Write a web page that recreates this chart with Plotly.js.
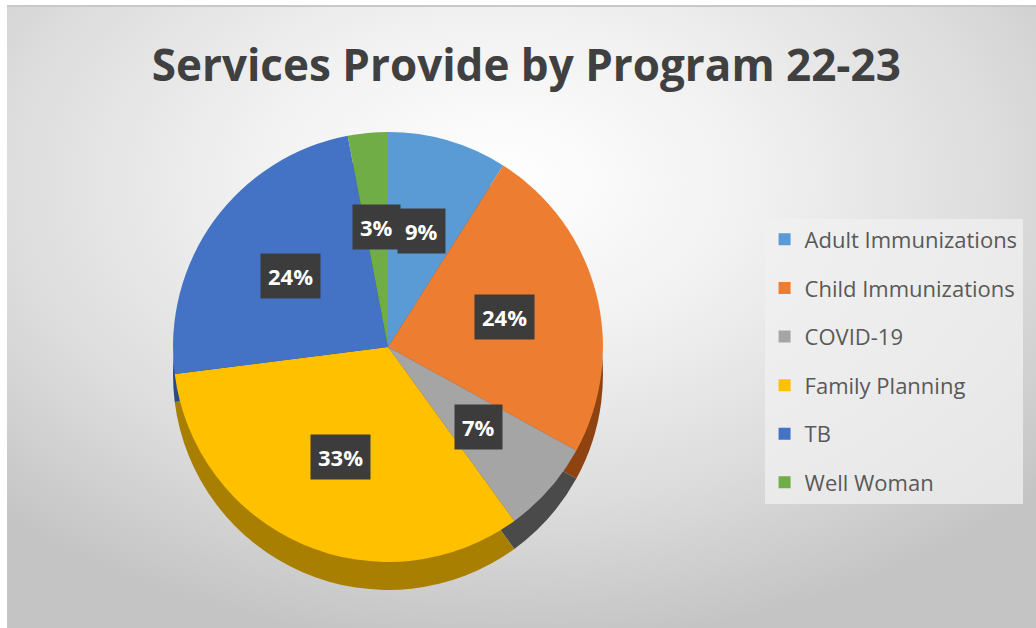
<!DOCTYPE html>
<html>
<head>
<meta charset="utf-8">
<script src="https://cdn.plot.ly/plotly-3.0.1.min.js"></script>
<style>
  html, body { margin: 0; padding: 0; background: #ffffff; }
  #wrap { position: relative; width: 1036px; height: 628px; background: #ffffff; overflow: hidden; }
  #bg { position: absolute; left: 7px; top: 5px; width: 1029px; height: 623px;
        background: radial-gradient(ellipse 70% 75% at 48% 28%, #ffffff 0%, #f1f1f1 35%, #dcdcdc 70%, #c4c4c4 100%);
        border-top: 2px solid #c8c8c8; box-sizing: border-box; }
  #chart { position: absolute; left: 0; top: 0; width: 1036px; height: 628px; }
</style>
</head>
<body>
<div id="wrap"><div id="bg"></div><div id="chart"></div></div>
<script>
const categories = ["Adult Immunizations", "Child Immunizations", "COVID-19", "Family Planning", "TB", "Well Woman"];
const shares = [9, 24, 7, 33, 24, 3];
const colors = ["#5B9BD5", "#ED7D31", "#A5A5A5", "#FFC000", "#4472C4", "#70AD47"];
const sideColors = ["#2E6296", "#8E4311", "#4A4A4A", "#A87F00", "#2A4A85", "#44722A"];
const titleText = "Services Provide by Program 22-23";

const W = 1036, H = 628;
const dom = { x: [0.167, 0.582], y: [0.105, 0.790] };
const depth = 0.0446;

const side = {
  type: "pie",
  labels: categories, values: shares,
  sort: false, direction: "clockwise", rotation: 0,
  marker: { colors: sideColors, line: { width: 0 } },
  textinfo: "none", hoverinfo: "skip", showlegend: false,
  domain: { x: dom.x, y: [dom.y[0] - depth, dom.y[1] - depth] }
};

const pie = {
  type: "pie",
  labels: categories,
  values: shares,
  sort: false,
  direction: "clockwise",
  rotation: 0,
  marker: { colors: colors, line: { width: 0 } },
  textinfo: "none",
  hoverinfo: "label+percent",
  showlegend: false,
  domain: dom
};

// legend entries (no data, legend only)
const legendTraces = categories.map((c, i) => ({
  type: "scatter", mode: "markers", x: [null], y: [null],
  name: c, legendgroup: "g" + i,
  marker: { symbol: "square", size: 12, color: colors[i] },
  hoverinfo: "skip"
}));

// percentage labels placed from the data's angles
const total = shares.reduce((a, b) => a + b, 0);
const cx = (dom.x[0] + dom.x[1]) / 2 * W;
const cy = (1 - (dom.y[0] + dom.y[1]) / 2) * H;
const R = Math.min((dom.x[1] - dom.x[0]) * W, (dom.y[1] - dom.y[0]) * H) / 2;
let cum = 0;
const annotations = shares.map((v) => {
  const mid = (cum + v / 2) / total * 2 * Math.PI;
  cum += v;
  const px = cx + 0.56 * R * Math.sin(mid);
  const py = cy - 0.56 * R * Math.cos(mid);
  return {
    xref: "paper", yref: "paper", x: px / W, y: 1 - py / H,
    xanchor: "center", yanchor: "middle", showarrow: false,
    text: "<b>" + Math.round(v / total * 100) + "%</b>",
    font: { family: "Open Sans, sans-serif", size: 22, color: "#ffffff" },
    bgcolor: "#3c3c3c", borderpad: 7
  };
});

const layout = {
  width: W, height: H,
  margin: { l: 0, r: 0, t: 0, b: 0 },
  paper_bgcolor: "rgba(0,0,0,0)",
  plot_bgcolor: "rgba(0,0,0,0)",
  title: {
    text: "<b>" + titleText + "</b>",
    x: 0.508, xanchor: "center", y: 0.896, yanchor: "middle",
    font: { family: "Open Sans, sans-serif", size: 44, color: "#404040" }
  },
  xaxis: { visible: false },
  yaxis: { visible: false },
  showlegend: true,
  legend: {
    x: 0.738, xanchor: "left", y: 0.652, yanchor: "top",
    bgcolor: "rgba(240,240,240,0.75)",
    font: { family: "Open Sans, sans-serif", size: 22, color: "#595959" },
    tracegroupgap: 17,
    itemwidth: 30,
    itemclick: false, itemdoubleclick: false
  },
  annotations: annotations
};

Plotly.newPlot("chart", [side, pie].concat(legendTraces), layout, { displayModeBar: false, staticPlot: true });
</script>
</body>
</html>
